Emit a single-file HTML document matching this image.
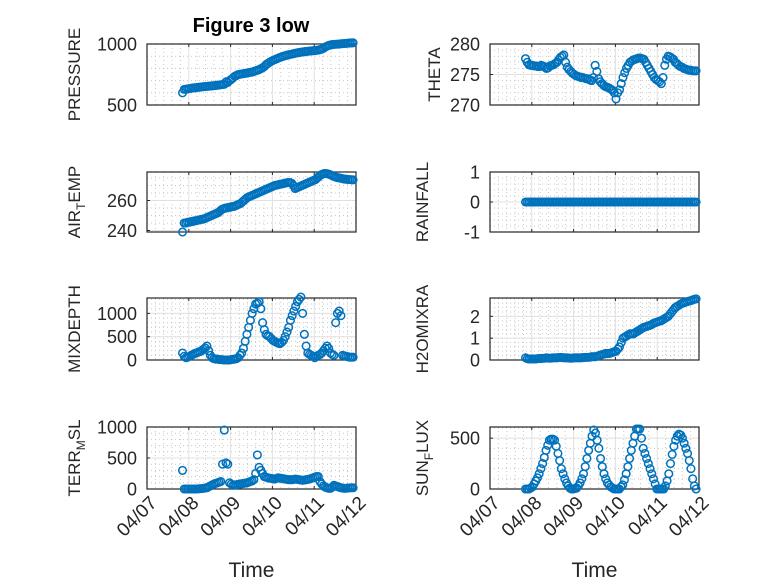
<!DOCTYPE html>
<html><head><meta charset="utf-8"><style>
body{margin:0;background:#fff;}
svg{display:block;font-family:"Liberation Sans",sans-serif;}
</style></head><body>
<svg id="fig" width="778" height="583" viewBox="0 0 778 583" xmlns="http://www.w3.org/2000/svg">
<rect width="778" height="583" fill="#fff"/>
<text x="251" y="32" text-anchor="middle" font-size="20" font-weight="bold" fill="#000">Figure 3 low</text>
</svg>
<script>
const xTickLabels = ["04/07","04/08","04/09","04/10","04/11","04/12"];
const pressure = [600,628,630,632,635,637,640,641,643,645,646,648,650,651,652,654,655,657,658,660,662,664,666,668,670,690,685,700,710,722,735,742,750,752,755,757,760,762,765,768,770,775,780,785,790,798,805,815,830,840,850,858,865,872,878,884,890,895,900,904,908,912,915,918,922,925,928,930,933,935,937,939,940,942,943,945,946,948,950,954,958,965,975,982,988,992,995,997,998,999,1000,1002,1003,1004,1005,1007,1008,1009,1010];
const theta = [277.6,277.0,276.6,276.5,276.5,276.4,276.4,276.3,276.3,276.5,276.4,276.2,276.0,276.1,276.4,276.5,276.6,276.8,277.0,277.4,277.8,278.0,278.2,277.0,276.2,275.8,275.5,275.2,275.0,274.8,274.7,274.6,274.5,274.5,274.4,274.3,274.3,274.1,274.0,274.5,276.5,275.5,274.3,273.8,273.5,273.2,273.0,272.9,272.8,272.6,272.4,272.0,271.0,272.0,272.5,273.5,274.5,275.3,276.0,276.5,277.0,277.2,277.4,277.5,277.6,277.7,277.7,277.6,277.5,277.0,276.5,276.0,275.5,275.0,274.5,274.2,274.0,273.8,273.5,274.5,276.5,277.5,278.0,277.9,277.7,277.5,277.0,276.8,276.5,276.3,276.2,276.0,275.9,275.8,275.7,275.7,275.6,275.6,275.6];
const airTemp = [239,245,245,245.5,245.5,246,246,246.5,246.5,247,247,247.5,247.5,248,248.5,249,249.5,250,250.5,251,251.5,252,253,254,254.5,255,255,255.5,255.5,256,256,256.5,257,257.5,258,259,260,261,262,262.5,263,263.5,264,264.5,265,265.5,266,266.5,267,267.5,268,268.5,269,269.5,270,270.2,270.5,270.8,271,271.3,271.5,271.8,272,272,271.5,270,268,268.5,269,269.5,270,270.5,271,271.5,272,272.5,273,273.5,274,275,276,277,277.5,278,278,277.8,277.5,277,276.5,276,275.5,275.3,275,274.8,274.5,274.3,274.2,274,274,273.8,273.8];
const rainfall = [0,0,0,0,0,0,0,0,0,0,0,0,0,0,0,0,0,0,0,0,0,0,0,0,0,0,0,0,0,0,0,0,0,0,0,0,0,0,0,0,0,0,0,0,0,0,0,0,0,0,0,0,0,0,0,0,0,0,0,0,0,0,0,0,0,0,0,0,0,0,0,0,0,0,0,0,0,0,0,0,0,0,0,0,0,0,0,0,0,0,0,0,0,0,0,0,0,0,0];
const mixDepth = [150,80,50,60,80,100,120,140,150,170,180,200,230,260,300,200,100,50,30,20,20,10,10,5,0,0,0,0,10,15,20,30,50,100,150,250,400,550,700,850,1000,1100,1200,1220,1250,1100,800,650,550,520,500,460,420,400,380,360,350,380,420,500,600,700,850,950,1050,1150,1250,1300,1350,1000,550,300,150,120,100,80,50,80,100,120,150,200,250,300,250,150,120,100,800,1000,1050,950,100,90,80,70,60,60,60];
const h2oMixRatio = [0.1,0.06,0.05,0.05,0.05,0.05,0.05,0.06,0.07,0.07,0.08,0.08,0.1,0.09,0.08,0.09,0.1,0.1,0.1,0.11,0.12,0.11,0.1,0.1,0.1,0.09,0.08,0.09,0.1,0.1,0.1,0.1,0.1,0.11,0.12,0.12,0.12,0.13,0.15,0.15,0.15,0.17,0.2,0.22,0.25,0.27,0.3,0.3,0.3,0.32,0.35,0.38,0.4,0.5,0.6,0.8,1.0,1.05,1.1,1.15,1.2,1.2,1.2,1.25,1.3,1.35,1.4,1.45,1.5,1.52,1.55,1.58,1.6,1.65,1.7,1.72,1.75,1.78,1.8,1.85,1.9,1.95,2.0,2.1,2.2,2.3,2.4,2.45,2.5,2.55,2.6,2.62,2.65,2.68,2.7,2.72,2.75,2.78,2.8];
const terrMsl = [300,0,0,0,0,0,0,0,0,2,5,8,10,15,20,35,50,65,80,90,100,110,120,400,950,420,400,100,80,60,65,70,75,80,85,90,95,100,110,120,130,150,250,550,350,300,250,200,190,180,175,170,165,160,170,180,175,170,165,160,155,150,150,150,155,160,155,150,145,140,145,150,155,160,170,180,190,200,200,120,80,50,30,20,10,10,30,60,50,40,30,20,15,10,12,15,18,20,20];
const sunFlux = [0,0,0,10,20,50,80,110,150,200,250,310,380,430,480,490,490,480,420,350,280,200,150,100,60,30,10,0,0,5,10,30,60,100,150,220,300,380,450,520,580,550,480,400,300,220,150,100,60,40,20,10,0,0,0,0,20,40,90,150,220,300,380,450,520,590,590,590,500,400,350,300,250,200,150,100,50,0,0,0,0,0,30,80,150,250,340,420,480,520,540,530,500,450,400,350,280,200,100,30,0];

const T_START = 0.85, T_END = 4.93;
const NS = "http://www.w3.org/2000/svg";
const svg = document.getElementById("fig");
function mk(tag, attrs, parent) {
  const e = document.createElementNS(NS, tag);
  for (const k in attrs) e.setAttribute(k, attrs[k]);
  (parent || svg).appendChild(e);
  return e;
}
const cols = [[147,356],[490,699]];
const rows = [[44,105],[172,232],[298,360],[427,489]];
const panels = [
  {col:0,row:0,data:pressure,ymin:500,ymax:1000,yt:[500,1000],minor:100,label:["PRESSURE"],name:"pressure",lo:67},
  {col:1,row:0,data:theta,ymin:270,ymax:280,yt:[270,275,280],minor:1,label:["THETA"],name:"theta",lo:50},
  {col:0,row:1,data:airTemp,ymin:239,ymax:279,yt:[240,260],minor:5,label:["AIR","T","EMP"],name:"air-temp",lo:67},
  {col:1,row:1,data:rainfall,ymin:-1,ymax:1,yt:[-1,0,1],minor:0.2,label:["RAINFALL"],name:"rainfall",lo:62},
  {col:0,row:2,data:mixDepth,ymin:0,ymax:1330,yt:[0,500,1000],minor:100,label:["MIXDEPTH"],name:"mixdepth",lo:67},
  {col:1,row:2,data:h2oMixRatio,ymin:0,ymax:2.84,yt:[0,1,2],minor:0.2,label:["H2OMIXRA"],name:"h2omixra",lo:62},
  {col:0,row:3,data:terrMsl,ymin:0,ymax:1000,yt:[0,500,1000],minor:100,label:["TERR","M","SL"],name:"terr-msl",lo:67},
  {col:1,row:3,data:sunFlux,ymin:0,ymax:610,yt:[0,500],minor:100,label:["SUN","F","LUX"],name:"sun-flux",lo:62}
];
panels.forEach(p => {
  const [x0,x1] = cols[p.col], [y0,y1] = rows[p.row];
  const g = mk("g", {});
  
  
  const xs = t => x0 + (t / 5) * (x1 - x0);
  const ys = v => y1 - (v - p.ymin) / (p.ymax - p.ymin) * (y1 - y0);
  for (let d = 0; d < 5; d++) for (let m = 1; m < 5; m++) {
    const x = xs(d + m / 5);
    mk("line", {x1:x,x2:x,y1:y0,y2:y1,stroke:"#c8c8c8","stroke-width":1,"stroke-dasharray":"1 3"}, g);
  }
  const start = Math.ceil(p.ymin / p.minor) * p.minor;
  for (let v = start; v <= p.ymax + 1e-9; v += p.minor) {
    const y = ys(v);
    mk("line", {x1:x0,x2:x1,y1:y,y2:y,stroke:"#c8c8c8","stroke-width":1,"stroke-dasharray":"1 3"}, g);
  }
  for (let d = 1; d < 5; d++) {
    const x = xs(d);
    mk("line", {x1:x,x2:x,y1:y0,y2:y1,stroke:"#e0e0e0","stroke-width":1}, g);
  }
  p.yt.forEach(v => {
    const y = ys(v);
    mk("line", {x1:x0,x2:x1,y1:y,y2:y,stroke:"#e0e0e0","stroke-width":1}, g);
    mk("line", {x1:x0,x2:x0+3,y1:y,y2:y,stroke:"#262626","stroke-width":1}, g);
    const tl = mk("text", {x:x0-10,y:y+6.5,"text-anchor":"end","font-size":18,fill:"#262626"}, g);
    tl.textContent = String(v);
    
    
  });
  for (let d = 0; d <= 5; d++) {
    const x = xs(d);
    mk("line", {x1:x,x2:x,y1:y1,y2:y1-3,stroke:"#262626","stroke-width":1}, g);
    mk("line", {x1:x,x2:x,y1:y0,y2:y0+3,stroke:"#262626","stroke-width":1}, g);
  }
  mk("rect", {x:x0,y:y0,width:x1-x0,height:y1-y0,fill:"none",stroke:"#262626","stroke-width":1.2}, g);
  const n = p.data.length;
  p.data.forEach((v, i) => {
    const t = T_START + i * (T_END - T_START) / (n - 1);
    const c = mk("circle", {cx:xs(t),cy:ys(v),r:3.8,fill:"none",stroke:"#0072BD","stroke-width":1.5}, g);
    
    
  });
  const lx = x0 - p.lo, ly = (y0 + y1) / 2;
  const lab = mk("text", {x:lx,y:ly,"text-anchor":"middle","font-size":17,fill:"#262626",transform:`rotate(-90 ${lx} ${ly})`}, g);
  
  
  if (p.label.length === 1) lab.textContent = p.label[0];
  else {
    const a = mk("tspan", {}, lab); a.textContent = p.label[0];
    const b = mk("tspan", {dy:5,"font-size":12}, lab); b.textContent = p.label[1];
    const c = mk("tspan", {dy:-5}, lab); c.textContent = p.label[2];
  }
  if (p.row === 3) {
    xTickLabels.forEach((s, d) => {
      const x = xs(d) + 11, y = y1 + 15;
      const t = mk("text", {x:x,y:y,"text-anchor":"end","font-size":19,fill:"#262626",transform:`rotate(-45 ${x} ${y})`}, g);
      t.textContent = s;
      
      
    });
    const xt = mk("text", {x:(x0+x1)/2,y:577,"text-anchor":"middle","font-size":21,fill:"#262626"}, g);
    xt.textContent = "Time";
    
    
  }
});
</script>
</body></html>
